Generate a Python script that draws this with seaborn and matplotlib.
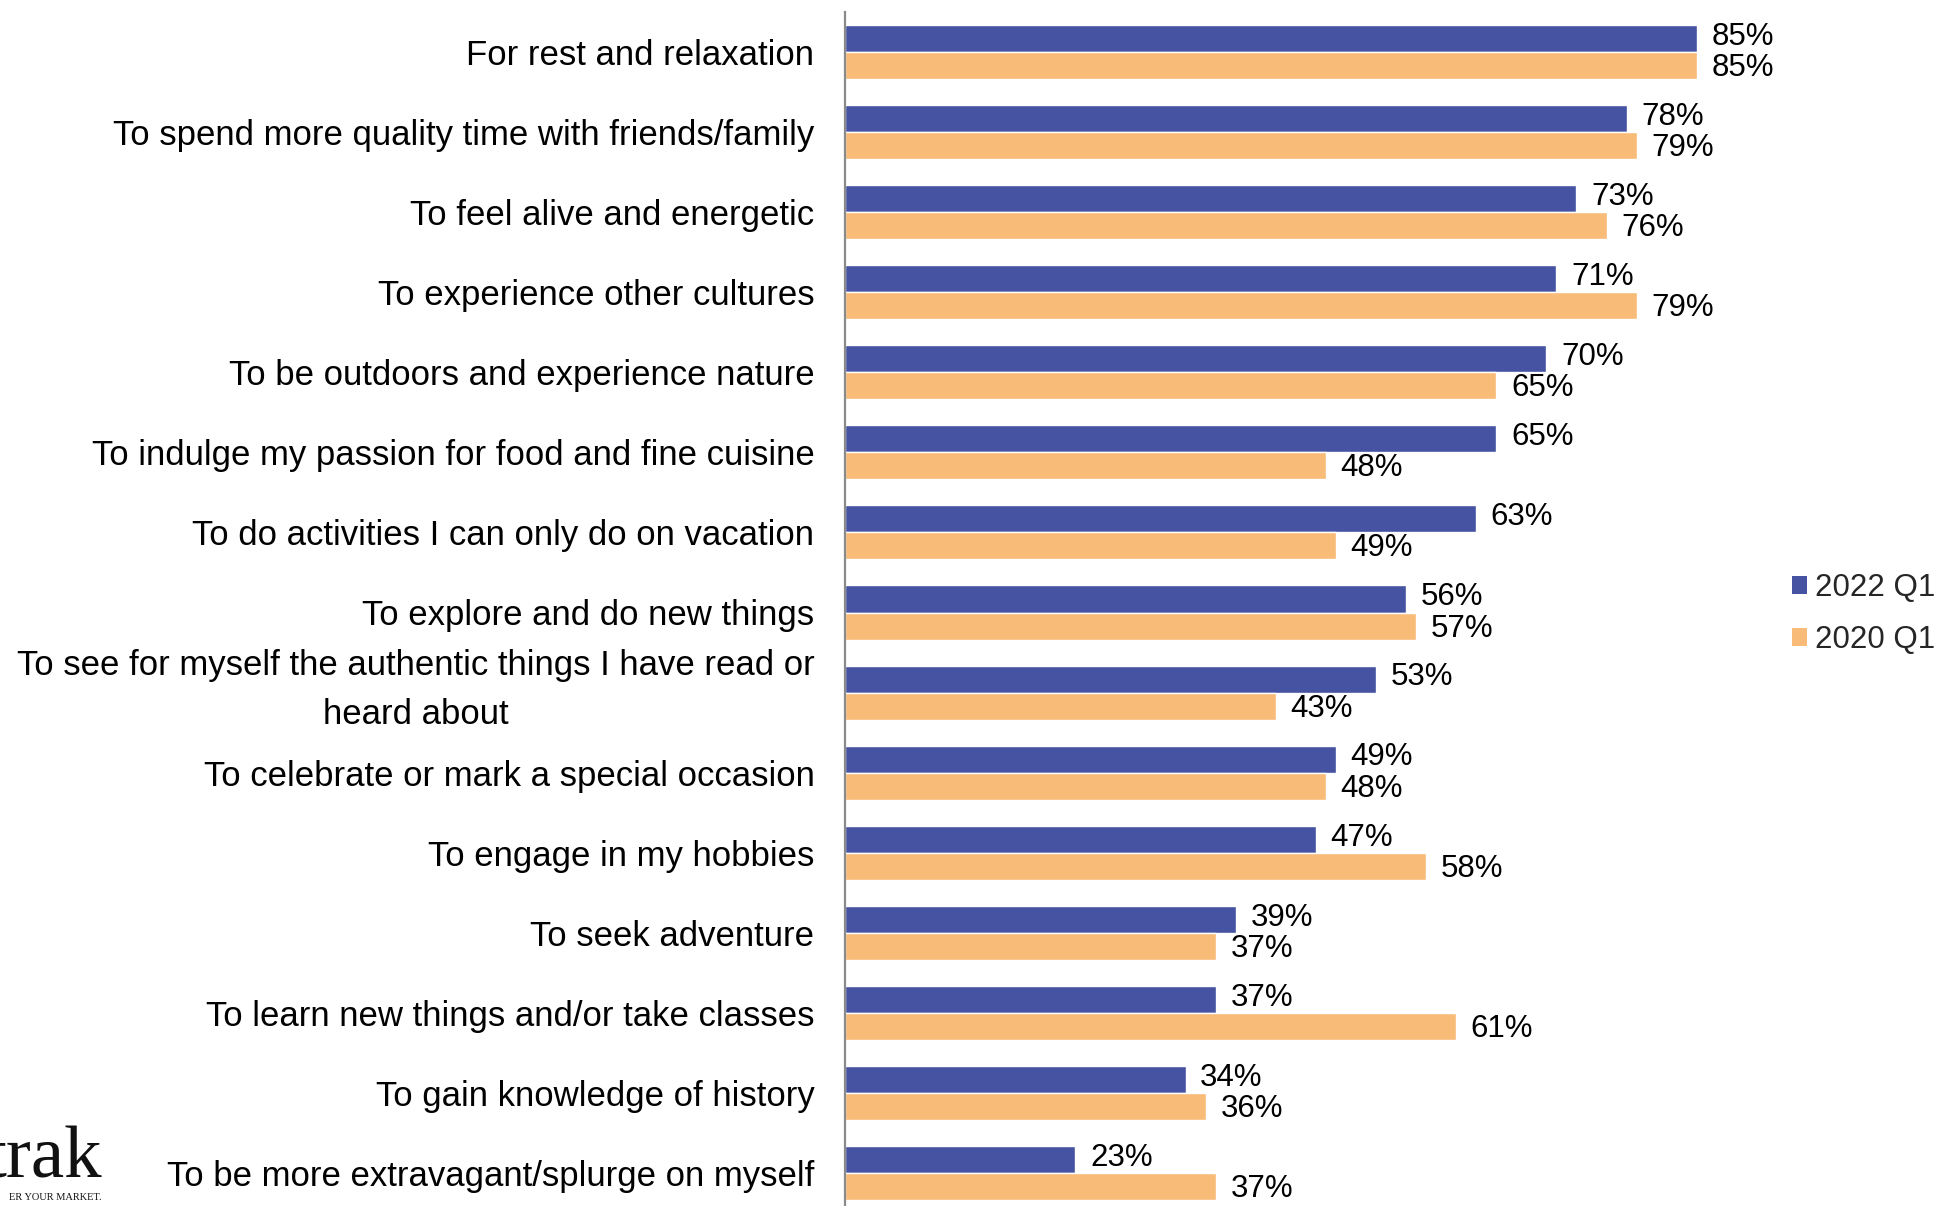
import matplotlib
matplotlib.use("Agg")
import matplotlib.pyplot as plt
import matplotlib.transforms as mtransforms
import seaborn as sns
import pandas as pd
from matplotlib.patches import Patch

categories = [
    "For rest and relaxation",
    "To spend more quality time with friends/family",
    "To feel alive and energetic",
    "To experience other cultures",
    "To be outdoors and experience nature",
    "To indulge my passion for food and fine cuisine",
    "To do activities I can only do on vacation",
    "To explore and do new things",
    "To see for myself the authentic things I have read or\nheard about",
    "To celebrate or mark a special occasion",
    "To engage in my hobbies",
    "To seek adventure",
    "To learn new things and/or take classes",
    "To gain knowledge of history",
    "To be more extravagant/splurge on myself",
]
series_names = ["2022 Q1", "2020 Q1"]
values_2022 = [85, 78, 73, 71, 70, 65, 63, 56, 53, 49, 47, 39, 37, 34, 23]
values_2020 = [85, 79, 76, 79, 65, 48, 49, 57, 43, 48, 58, 37, 61, 36, 37]
colors = ["#4553A2", "#F8BB78"]

df = pd.DataFrame({
    "Reason": categories * 2,
    "Period": [series_names[0]] * len(categories) + [series_names[1]] * len(categories),
    "Value": values_2022 + values_2020,
})

sns.set_theme(style="white")
plt.rcParams["font.family"] = ["Liberation Sans", "DejaVu Sans"]

fig = plt.figure(figsize=(19.52, 12.06), dpi=100)
ax = fig.add_axes([845 / 1952, -7 / 1206, (1847 - 845) / 1952, (1206 - 12 + 7) / 1206])

sns.barplot(data=df, y="Reason", x="Value", hue="Period", hue_order=series_names,
            palette=colors, order=categories, orient="h", width=0.675,
            saturation=1, ax=ax, legend=False)

ax.set_xlim(0, 100)
ax.set_ylim(len(categories) - 0.5, -0.5)
ax.set_xlabel("")
ax.set_ylabel("")
ax.set_xticks([])
for s in ["top", "right", "bottom"]:
    ax.spines[s].set_visible(False)
ax.spines["left"].set_color("#8a8a8a")
ax.spines["left"].set_linewidth(1.6)
ax.tick_params(axis="y", length=0, pad=22, labelsize=25, labelcolor="black")
for t in ax.get_yticklabels():
    t.set_multialignment("center")
    if "\n" in t.get_text():
        t.set_linespacing(1.6)
        t.set_transform(t.get_transform() +
                        mtransforms.ScaledTranslation(0, 10 / 72, fig.dpi_scale_trans))

offsets = [1.2, -1.8]
for cont, dy in zip(ax.containers, offsets):
    texts = ax.bar_label(cont, fmt="%d%%", padding=10.5, fontsize=22.5, color="black")
    for t in texts:
        t.xyann = (10.5, dy)

handles = [Patch(facecolor=c, edgecolor="none") for c in colors]
fig.legend(handles, series_names, loc="center left",
           bbox_to_anchor=(1776 / 1952, 1 - 614 / 1206), frameon=False,
           fontsize=22.5, handlelength=0.5, handleheight=0.5,
           handletextpad=0.25, labelspacing=0.7, borderpad=0)

# partial logo at bottom-left (cut off at the figure edge, as in the source)
fig.text(102 / 1952, 1 - 1178 / 1206, "trak", fontsize=54, ha="right", va="baseline",
         family=["Liberation Serif", "DejaVu Serif"], color="#111111")
fig.text(102 / 1952, 1 - 1200 / 1206, "ER YOUR MARKET.", fontsize=7.5, ha="right",
         va="baseline", family=["Liberation Serif", "DejaVu Serif"], color="#111111")

fig.savefig("out.png", dpi=100)
